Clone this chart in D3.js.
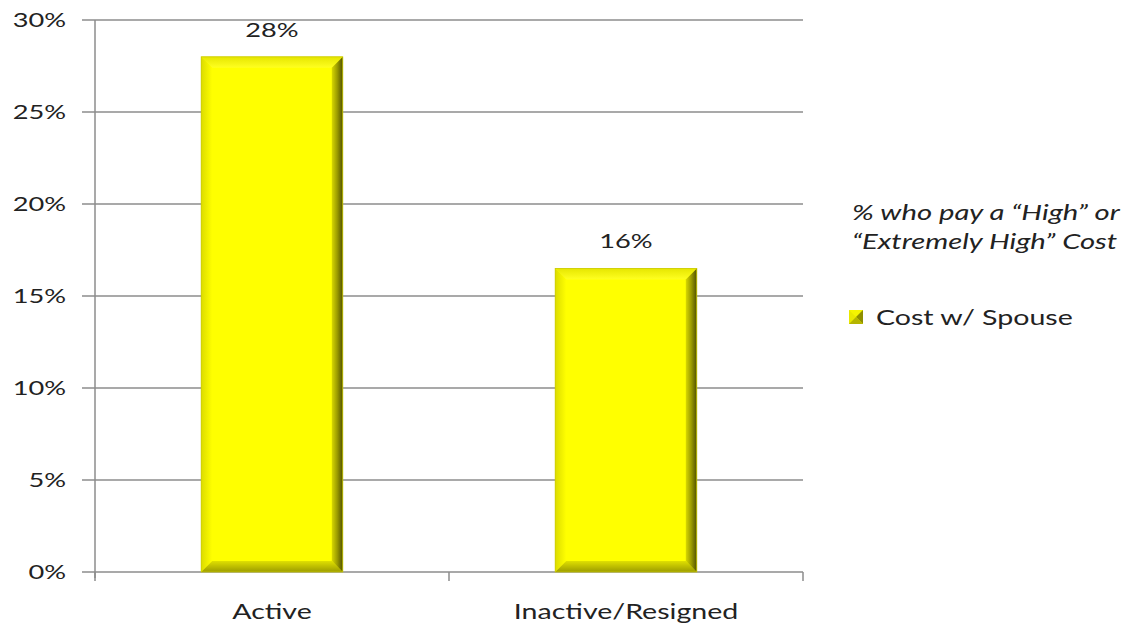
<!DOCTYPE html>
<html><head><meta charset="utf-8">
<script src="https://cdn.jsdelivr.net/npm/d3@7"></script>
<style>body{margin:0;background:#fff}svg{display:block}text{font-family:Lato,"Open Sans",sans-serif;fill:#222}</style>
</head><body>
<script>
const categories = ["Active", "Inactive/Resigned"];
const values = [28.0, 16.5];
const valueLabels = ["28%", "16%"];
const yTicks = [0, 5, 10, 15, 20, 25, 30];
const seriesName = "Cost w/ Spouse";
const legendTitle = ["% who pay a \u201cHigh\u201d or", "\u201cExtremely High\u201d Cost"];

const W = 1133, H = 628;
const SX = 1.36; // horizontal stretch of the reference's text
const svg = d3.select("body").append("svg").attr("width", W).attr("height", H);
const m = {left: 95, right: 803, top: 20, bottom: 572};

const x = d3.scaleBand().domain(categories).range([m.left, m.right]).paddingInner(0.6).paddingOuter(0.3);
const y = d3.scaleLinear().domain([0, 30]).range([m.bottom, m.top]);
const tr = (px, py) => `translate(${px},${py}) scale(${SX},1)`;

// gridlines
svg.append("g").selectAll("line").data(yTicks).join("line")
  .attr("x1", m.left - 13).attr("x2", m.right)
  .attr("y1", d => y(d)).attr("y2", d => y(d))
  .attr("stroke", "#8c8c8c").attr("stroke-width", 1.5);

// y axis line
svg.append("line").attr("x1", m.left).attr("x2", m.left).attr("y1", y(30)).attr("y2", y(0) + 6)
  .attr("stroke", "#8c8c8c").attr("stroke-width", 1.5);
// x ticks
const xEdges = [x.range()[0], (x.range()[0] + x.range()[1]) / 2, x.range()[1]];
svg.append("g").selectAll("line").data(xEdges).join("line")
  .attr("x1", d => d).attr("x2", d => d).attr("y1", y(0)).attr("y2", y(0) + 9)
  .attr("stroke", "#8c8c8c").attr("stroke-width", 1.5);

// y labels
svg.append("g").selectAll("text").data(yTicks).join("text")
  .attr("transform", d => tr(66, y(d))).attr("dy", "0.35em")
  .attr("text-anchor", "end").attr("font-size", 20).text(d => d + "%");

// x labels
svg.append("g").selectAll("text").data(categories).join("text")
  .attr("transform", d => tr(x(d) + x.bandwidth() / 2, y(0) + 47))
  .attr("text-anchor", "middle").attr("font-size", 21).text(d => d);

// gradients
const defs = svg.append("defs");
function grad(id, x1, y1, x2, y2, stops) {
  const g = defs.append("linearGradient").attr("id", id).attr("x1", x1).attr("y1", y1).attr("x2", x2).attr("y2", y2);
  stops.forEach(s => g.append("stop").attr("offset", s[0]).attr("stop-color", s[1]));
}
grad("gTop", 0, 1, 0, 0, [[0, "#ffff20"], [1, "#e6e600"]]);
grad("gRight", 0, 0, 1, 0, [[0, "#d8d800"], [0.5, "#9a9a00"], [1, "#505000"]]);
grad("gBottom", 0, 0, 0, 1, [[0, "#e0e000"], [1, "#9c9c00"]]);
grad("gLeft", 1, 0, 0, 0, [[0, "#ffff00"], [1, "#dcdc00"]]);

const bev = 11;
const bars = svg.append("g").selectAll("g").data(categories).join("g");
bars.each(function(c, i) {
  const g = d3.select(this);
  const x0 = x(c), x1 = x(c) + x.bandwidth(), y0 = y(values[i]), y1 = y(0);
  g.append("rect").attr("x", x0).attr("y", y0).attr("width", x1 - x0).attr("height", y1 - y0).attr("fill", "#ffff00");
  const poly = (pts, f) => g.append("polygon").attr("points", pts.map(p => p.join(",")).join(" ")).attr("fill", f);
  poly([[x0, y0], [x1, y0], [x1 - bev, y0 + bev], [x0 + bev, y0 + bev]], "url(#gTop)");
  poly([[x0, y0], [x0 + bev, y0 + bev], [x0 + bev, y1 - bev], [x0, y1]], "url(#gLeft)");
  poly([[x0, y1], [x0 + bev, y1 - bev], [x1 - bev, y1 - bev], [x1, y1]], "url(#gBottom)");
  poly([[x1, y0], [x1 - bev, y0 + bev], [x1 - bev, y1 - bev], [x1, y1]], "url(#gRight)");
  g.append("rect").attr("x", x0).attr("y", y0).attr("width", x1 - x0).attr("height", y1 - y0)
    .attr("fill", "none").attr("stroke", "#c8c800").attr("stroke-width", 0.8);
});

// value labels
svg.append("g").selectAll("text").data(categories).join("text")
  .attr("transform", (d, i) => tr(x(d) + x.bandwidth() / 2, y(values[i]) - 20))
  .attr("text-anchor", "middle").attr("font-size", 20).text((d, i) => valueLabels[i]);

// legend
const lg = svg.append("g");
lg.selectAll("text.t").data(legendTitle).join("text").attr("class", "t")
  .attr("transform", (d, i) => tr(852, 220 + i * 29))
  .attr("font-size", 21.5).attr("font-style", "italic").text(d => d);
const sw = lg.append("g").attr("transform", "translate(849,310)");
sw.append("rect").attr("width", 14).attr("height", 14).attr("fill", "#e8e800");
sw.append("polygon").attr("points", "0,0 14,0 7,7").attr("fill", "#f4f400");
sw.append("polygon").attr("points", "14,0 14,14 7,7").attr("fill", "#8f8f00");
sw.append("polygon").attr("points", "0,14 14,14 7,7").attr("fill", "#b5b500");
lg.append("text").attr("transform", tr(876, 318)).attr("dy", "0.35em").attr("font-size", 21).text(seriesName);
</script>
</body></html>
